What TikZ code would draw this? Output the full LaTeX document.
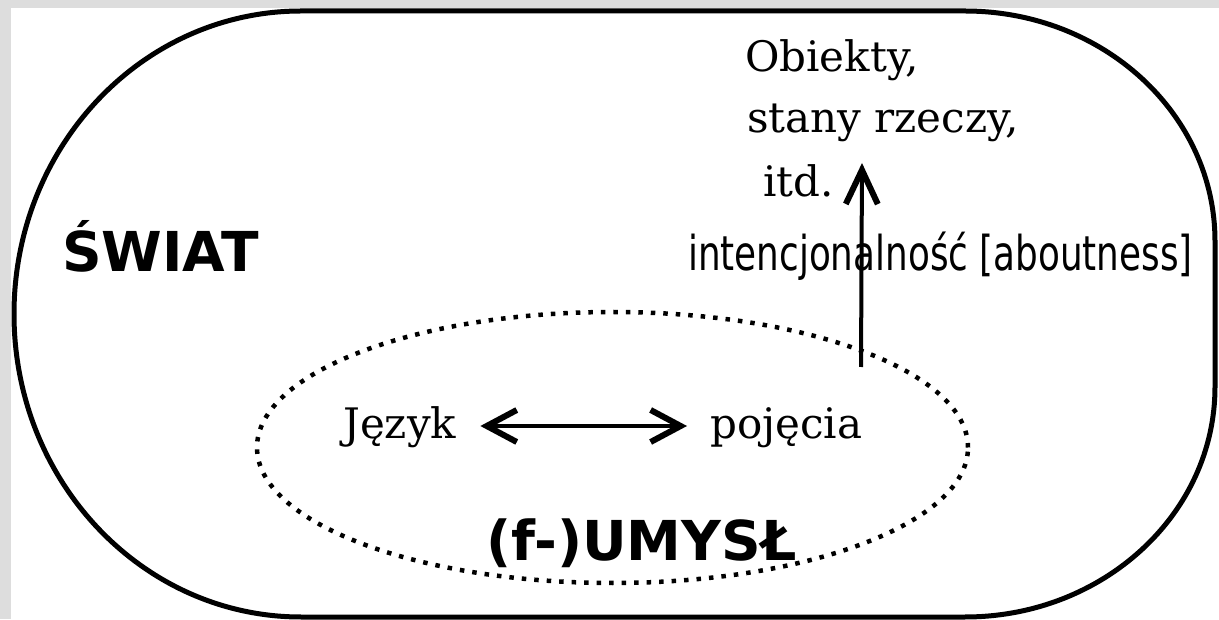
\documentclass[tikz,border=0pt]{standalone}
\usepackage{fontspec}
\usetikzlibrary{arrows.meta}
\newfontfamily\serifw{DejaVu Serif}
\newfontfamily\sansw[FakeStretch=0.745]{DejaVu Sans}
\newfontfamily\headw{DejaVu Sans}
\definecolor{margin}{RGB}{221,221,221}

\begin{document}
\begin{tikzpicture}[x=1pt, y=1pt,
    word/.style={font=\serifw\fontsize{42}{50}\selectfont, inner sep=0pt, anchor=base west},
    pair/.style={word, text height=26pt, text depth=0pt},
    bigword/.style={font=\headw\bfseries\fontsize{55}{66}\selectfont, inner sep=0pt, anchor=base west},
    relword/.style={font=\sansw\fontsize{48}{58}\selectfont, inner sep=0pt, anchor=base west},
    world/.style={line width=5pt},
    mind/.style={line width=4.5pt, dash pattern=on 4.5pt off 8pt},
    barb/.style={line width=4pt, -{Straight Barb[length=34pt, width=32pt, line width=6pt]}},
    dblbarb/.style={line width=4pt, {Straight Barb[length=30pt, width=32pt, line width=6pt]}-{Straight Barb[length=30pt, width=32pt, line width=6pt]}}]
        \useasboundingbox (0,0) rectangle (1219,619);
        \fill [margin] (0,0) rectangle (1219,619);
        \fill [white] (11,0) rectangle (1219,611);
        \draw [world] (301,608) -- (965,608)
            arc [start angle=90, end angle=0, x radius=250, y radius=230] -- (1215,232)
            arc [start angle=0, end angle=-90, x radius=250, y radius=230] -- (301,2)
            arc [start angle=270, end angle=90, x radius=287, y radius=303] -- cycle;
        \draw [mind] (612.5,171.5) ellipse [x radius=355.5, y radius=135.5];
        \node [bigword] (swiat) at (62,347) {ŚWIAT};
        \node [bigword] (umysl) at (486,58) {(f-)UMYSŁ};
        \node [word] (obiekty) at (745,547) {Obiekty,};
        \node [word] (stany) at (747,486) {stany rzeczy,};
        \node [word] (itd) at (763,422) {itd.};
        \node [pair] (jezyk) at (343,180) {Język};
        \node [pair] (pojecia) at (710,180) {pojęcia};
        \node [relword] (about) at (688,348) {intencjonalność [aboutness]};
        \coordinate (aboutlow) at (861,252);
        \coordinate (abouthigh) at (862,456);
        \draw [dblbarb, shorten <=24pt, shorten >=23pt] (jezyk) to (pojecia);
        \draw [barb] (aboutlow) to (abouthigh);
\end{tikzpicture}
\end{document}
